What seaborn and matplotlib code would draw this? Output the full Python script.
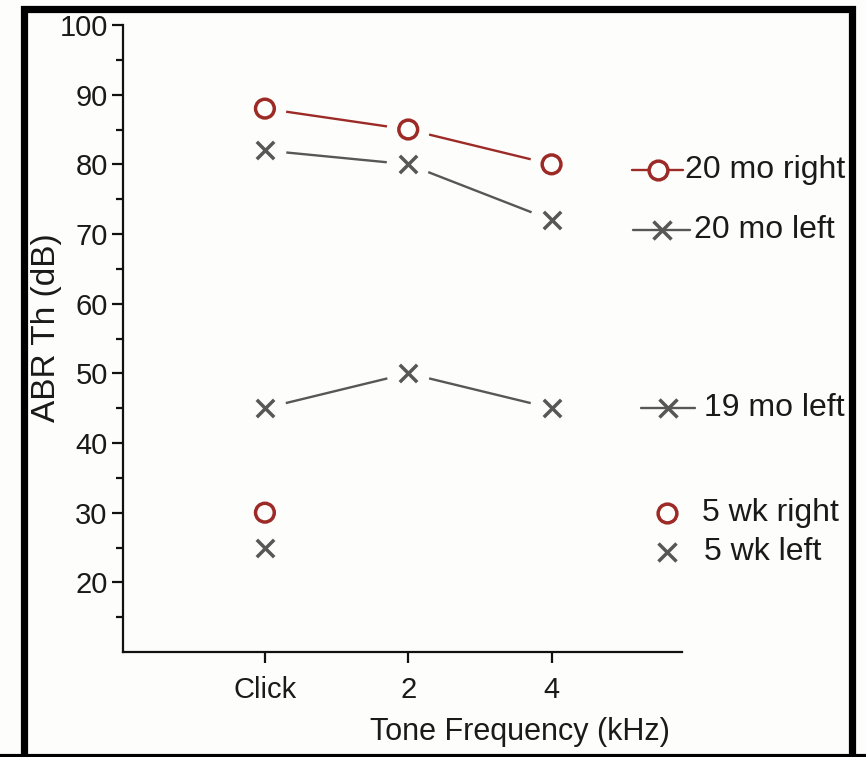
import numpy as np
import pandas as pd
import matplotlib
matplotlib.use('Agg')
import matplotlib.pyplot as plt
from matplotlib.lines import Line2D
from matplotlib.patches import Rectangle
import seaborn as sns

sns.set_style('ticks')
plt.rcParams['font.family'] = ['Liberation Sans', 'DejaVu Sans']

# data
freqs = ['Click', '2', '4']
mo20_right = [88, 85, 80]
mo20_left = [82, 80, 72]
mo19_left = [45, 50, 45]
wk5_right = [30]
wk5_left = [25]

RED = '#9c2b27'
GRAY = '#575757'
BG = '#fdfdfb'

W, H = 866, 757
fig = plt.figure(figsize=(W / 100, H / 100), dpi=100)
fig.patch.set_facecolor(BG)
ax = fig.add_axes([123 / W, 1 - 652 / H, (682 - 123) / W, (652 - 25) / H])
ax.set_facecolor(BG)


def to_df(vals, name):
    return pd.DataFrame({'x': np.arange(len(vals)), 'y': vals, 'series': name})


series = [
    (to_df(mo20_right, '20 mo right'), RED, 'o', True),
    (to_df(mo20_left, '20 mo left'), GRAY, 'x', True),
    (to_df(mo19_left, '19 mo left'), GRAY, 'x', True),
    (to_df(wk5_right, '5 wk right'), RED, 'o', False),
    (to_df(wk5_left, '5 wk left'), GRAY, 'x', False),
]

# lines first, then background discs to cut gaps around markers, then markers
for df, col, mk, joined in series:
    if joined:
        sns.lineplot(data=df, x='x', y='y', color=col, lw=1.7, ax=ax, zorder=1)
for df, col, mk, joined in series:
    if joined:
        sns.scatterplot(data=df, x='x', y='y', marker='o', s=31 ** 2,
                        color=BG, edgecolor='none', ax=ax, zorder=2)
for df, col, mk, joined in series:
    if mk == 'o':
        sns.scatterplot(data=df, x='x', y='y', marker='o', s=13.5 ** 2,
                        facecolor='none', edgecolor=col, linewidth=2.5,
                        ax=ax, zorder=3)
    else:
        sns.scatterplot(data=df, x='x', y='y', marker='x', s=12.5 ** 2,
                        color=col, linewidth=2.5, ax=ax, zorder=3)

ax.set_xlim(-0.99, 2.91)
ax.set_ylim(10, 100)
ax.set_xticks(range(len(freqs)))
ax.set_xticklabels(freqs)
ax.set_yticks(np.arange(20, 101, 10))
ax.set_yticks(np.arange(15, 100, 10), minor=True)

for s in ['top', 'right']:
    ax.spines[s].set_visible(False)
for s in ['left', 'bottom']:
    ax.spines[s].set_linewidth(1.6)
    ax.spines[s].set_color('#111111')

ax.tick_params(axis='both', which='major', direction='out', length=8,
               width=1.6, colors='#111111', labelsize=21)
ax.tick_params(axis='y', which='minor', direction='out', length=5, width=1.6,
               colors='#111111')
ax.tick_params(axis='y', which='major', pad=3)
ax.tick_params(axis='x', which='major', pad=9)
for lab in ax.get_xticklabels() + ax.get_yticklabels():
    lab.set_color('#1a1a1a')

ax.set_xlabel('Tone Frequency (kHz)', fontsize=22, color='#1a1a1a', va='center')
ax.xaxis.set_label_coords(0.71, -0.128)
ax.set_ylabel('ABR Th (dB)', fontsize=24, color='#1a1a1a', va='center')
ax.yaxis.set_label_coords(-0.136, 0.518)

# legend entries drawn to the right of the axes, each at its own height
def px(x, y):
    return x / W, 1 - y / H

legend_rows = [
    ('20 mo right', RED, 'o', True, 632, 683, 658, 685, 170),
    ('20 mo left', GRAY, 'x', True, 633, 690, 662, 694, 230),
    ('19 mo left', GRAY, 'x', True, 641, 695, 668, 704, 408),
    ('5 wk right', RED, 'o', False, 0, 0, 667, 702, 513),
    ('5 wk left', GRAY, 'x', False, 0, 0, 667, 704, 552),
]
for label, col, mk, joined, x0, x1, xm, xt, yy in legend_rows:
    if joined:
        a, b = px(x0, yy)
        c, d = px(x1, yy)
        fig.add_artist(Line2D([a, c], [b, b], color=col, lw=1.7,
                              transform=fig.transFigure))
    mx, my = px(xm, yy)
    if mk == 'o':
        fig.add_artist(Line2D([mx], [my], marker='o', ms=13.5, mfc=BG,
                              mec=col, mew=2.5, transform=fig.transFigure))
    else:
        fig.add_artist(Line2D([mx], [my], marker='x', ms=12.5, mec=col,
                              mew=2.5, transform=fig.transFigure))
    tx, ty = px(xt, yy)
    fig.text(tx, ty, label, fontsize=23, color='#1a1a1a', va='center', ha='left')

# black frame around the figure
fig.add_artist(Rectangle((23.5 / W, -0.01), (851.5 - 23.5) / W, 1 - 8.5 / H + 0.01,
                         fill=False, edgecolor='black', lw=5.2,
                         transform=fig.transFigure))
fig.add_artist(Line2D([0, 1], [1 - 755.5 / H] * 2, color='black', lw=3,
                      transform=fig.transFigure))

fig.savefig('out.png', dpi=100, facecolor=fig.get_facecolor())
